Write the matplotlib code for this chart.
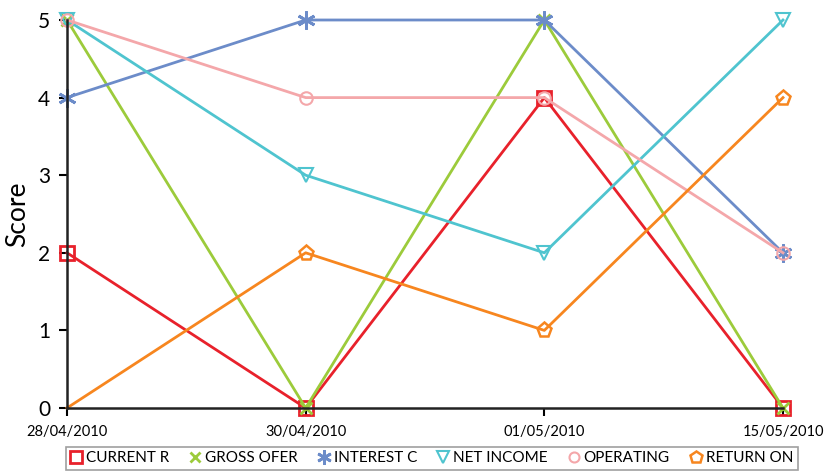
import matplotlib
matplotlib.use("Agg")
import matplotlib.pyplot as plt

dates = ["28/04/2010", "30/04/2010", "01/05/2010", "15/05/2010"]
series_names = ["CURRENT R", "GROSS OFER", "INTEREST C", "NET INCOME", "OPERATING", "RETURN ON"]
current_r = [2, 0, 4, 0]
gross_ofer = [5, 0, 5, 0]
interest_c = [4, 5, 5, 2]
net_income = [5, 3, 2, 5]
operating = [5, 4, 4, 2]
return_on = [0, 2, 1, 4]

plt.rcParams["font.family"] = ["Lato", "DejaVu Sans"]

styles = [
    (current_r, "#e8212b", "s", dict(markerfacecolor="none", markersize=10, markeredgewidth=2)),
    (gross_ofer, "#9ccb3b", "x", dict(markersize=9, markeredgewidth=2)),
    (interest_c, "#6c8cc9", (6, 2, 0), dict(markersize=13, markeredgewidth=2)),
    (net_income, "#4fc4cf", "v", dict(markerfacecolor="none", markersize=10, markeredgewidth=1.5)),
    (operating, "#f4a7aa", "o", dict(markerfacecolor="none", markersize=9, markeredgewidth=1.5)),
    (return_on, "#f7861f", "p", dict(markerfacecolor="none", markersize=11, markeredgewidth=1.8,
                                       markevery=[1, 2, 3])),
]

fig = plt.figure(figsize=(8.3, 4.75), dpi=100)
ax = fig.add_axes([67 / 830, 67 / 475, 716 / 830, 388 / 475])
x = range(len(dates))
handles = []
for (vals, col, mk, kw), name in zip(styles, series_names):
    h, = ax.plot(x, vals, color=col, lw=2, marker=mk, markeredgecolor=col,
                 clip_on=False, label=name, **kw)
    handles.append(h)

ax.set_xlim(0, 3)
ax.set_ylim(0, 5)
ax.set_xticks(list(x))
ax.set_xticklabels(dates, fontsize=10.5)
ax.set_yticks(range(6))
ax.tick_params(axis="y", labelsize=15, length=6, width=1.5, pad=6)
ax.tick_params(axis="x", length=6, width=1.5, pad=6)
ax.set_ylabel("Score", fontsize=19, labelpad=6)
for s in ["top", "right"]:
    ax.spines[s].set_visible(False)
for s in ["left", "bottom"]:
    ax.spines[s].set_linewidth(1.8)
    ax.spines[s].set_color("#222222")

leg = fig.legend(handles=handles, loc="lower center", bbox_to_anchor=(0.52, -0.005),
                 ncol=6, fontsize=11, frameon=True, fancybox=False, edgecolor="#888888",
                 handlelength=0.8, handletextpad=0.25, columnspacing=1.3,
                 borderpad=0.3, markerscale=0.8)
leg.get_frame().set_linewidth(1.2)
for h in leg.legend_handles:
    h.set_linestyle("none")

fig.savefig("out.png", dpi=100)
